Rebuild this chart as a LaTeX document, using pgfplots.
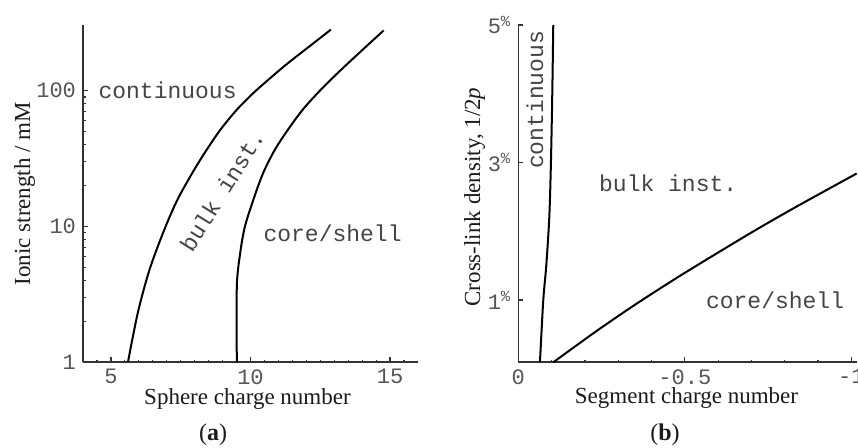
\documentclass[border=0pt]{standalone}
\usepackage{pgfplots}
\pgfplotsset{compat=1.18}
\usepackage{fontspec}
\setmainfont{Liberation Serif}
\setmonofont{Liberation Mono}
\definecolor{ticktxt}{HTML}{555555}
\definecolor{regtxt}{HTML}{444444}
\definecolor{axtxt}{HTML}{1A1A1A}
\definecolor{axln}{HTML}{333333}
\pgfplotsset{
  mystyle/.style={
    scale only axis,
    axis x line=bottom, axis y line=left,
    axis line style={-, draw=axln, line width=0.8pt},
    tick align=inside,
    major tick length=2.5pt, minor tick length=1.3pt,
    every tick/.style={draw=axln, line width=0.6pt},
    tick label style={font=\fontsize{11}{13}\selectfont\ttfamily, text=ticktxt},
    label style={font=\fontsize{11.5}{13}\selectfont, text=axtxt},
    clip=false,
  },
  curve/.style={black, line width=1pt, no markers, smooth, tension=0.5},
}
\tikzset{reg/.style={font=\fontsize{11.5}{13}\selectfont\ttfamily, text=regtxt}}
\begin{document}
\begin{tikzpicture}
\path[use as bounding box] (0,0) rectangle (429pt,224pt);
% ---------- (a)
\begin{axis}[mystyle,
  at={(41.5pt,42.85pt)}, anchor=south west,
  width=167.5pt, height=168.65pt,
  xmin=4, xmax=16, ymode=log, ymin=1, ymax=305,
  xtick={5,10,15}, xticklabels={5,10,15},
  minor xtick={4.5,5.5,6,6.5,7,7.5,8,8.5,9,9.5,10.5,11,11.5,12,12.5,13,13.5,14,14.5,15.5},
  ytick={1,10,100}, yticklabels={1,10,100},
  xlabel={Sphere charge number},
  ylabel={Ionic strength / mM},
  xlabel style={at={(axis description cs:0.491,-0.124)}, anchor=base},
  ylabel style={at={(axis description cs:-0.158,0.5)}, anchor=base, rotate=0},
]
\addplot[curve] coordinates {
(5.61,1.0) (5.96,2.30) (6.38,4.79) (6.91,9.45) (7.38,15.7) (7.91,24.7)
(8.39,35.7) (8.92,51.6) (9.51,72.5) (10.10,96.1) (10.69,123) (11.28,156)
(11.99,203) (12.88,282)};
\addplot[curve] coordinates {
(9.51,1.0) (9.51,3.61) (9.63,6.36) (9.80,10.0) (10.10,15.7) (10.45,24.7)
(10.87,36.7) (11.34,51.6) (11.87,72.5) (12.46,98.8) (13.17,138) (14.00,199) (14.77,278)};
\node[reg] at (axis cs:7.03,100) {continuous};
\node[reg, rotate=58] at (axis cs:8.98,18.4) {bulk inst.};
\node[reg] at (axis cs:12.94,8.93) {core/shell};
\end{axis}
% ---------- (b)
\begin{axis}[mystyle,
  at={(259.15pt,42.85pt)}, anchor=south west,
  width=169.2pt, height=168.65pt,
  xmin=0, xmax=1.016, ymin=0.094, ymax=5,
  xtick={0,0.5,1}, xticklabels={0,-0.5,-1},
  minor xtick={0.1,0.2,0.3,0.4,0.6,0.7,0.8,0.9},
  ytick={1,3,5}, yticklabels={1\textsuperscript{\%},3\textsuperscript{\%},5\textsuperscript{\%}},
  xlabel={Segment charge number},
  ylabel={Cross-link density, 1/2\textit{p}},
  xlabel style={at={(axis description cs:0.497,-0.1216)}, anchor=base},
  ylabel style={at={(axis description cs:-0.113,0.49)}, anchor=base, rotate=0},
]
\addplot[curve] coordinates {
(0.065,0.094) (0.075,1.0) (0.084,1.5) (0.093,2.2) (0.098,3.0) (0.102,4.0) (0.105,5.0)};
\addplot[curve] coordinates {
(0.105,0.094) (0.235,0.549) (0.356,0.949) (0.495,1.38) (0.696,1.97) (0.836,2.36) (1.016,2.84)};
\node[reg, rotate=90] at (axis cs:0.05,3.91) {continuous};
\node[reg] at (axis cs:0.450,2.70) {bulk inst.};
\node[reg] at (axis cs:0.771,1.0) {core/shell};
\end{axis}
\node[font=\fontsize{12}{14}\selectfont, text=axtxt] at (106.5pt,6.5pt) {(\textbf{a})};
\node[font=\fontsize{12}{14}\selectfont, text=axtxt] at (332.5pt,6.5pt) {(\textbf{b})};
\end{tikzpicture}
\end{document}
